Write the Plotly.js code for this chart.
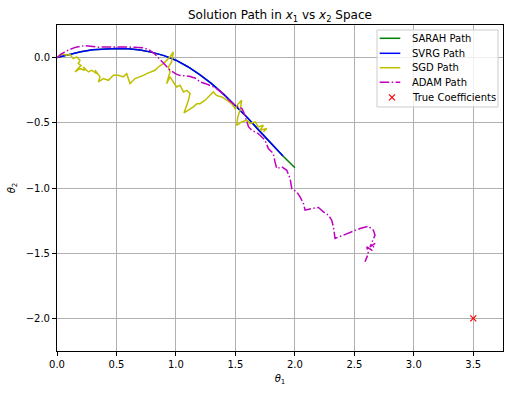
<!DOCTYPE html>
<html>
<head>
<meta charset="utf-8">
<script src="https://cdn.plot.ly/plotly-3.0.1.min.js"></script>
<style>html,body{margin:0;padding:0;background:#fff;}#chart{width:509px;height:393px;}</style>
</head>
<body>
<div id="chart"></div>
<script>
// SARAH path
const sarahX = [0,0.1,0.2,0.3,0.4,0.5,0.6,0.7,0.8,0.9,1.0,1.1,1.2,1.3,1.4,1.5,1.6,1.7,1.8,1.9,2.0];
const sarahY = [0,0.025,0.045,0.06,0.067,0.07,0.068,0.058,0.04,0.015,-0.02,-0.07,-0.13,-0.2,-0.28,-0.37,-0.46,-0.56,-0.66,-0.755,-0.845];
// SVRG path
const svrgX = [0,0.1,0.2,0.3,0.4,0.5,0.6,0.7,0.8,0.9,1.0,1.1,1.2,1.3,1.4,1.5,1.6,1.7,1.8,1.9];
const svrgY = [0,0.025,0.045,0.06,0.067,0.07,0.068,0.058,0.04,0.015,-0.02,-0.07,-0.13,-0.2,-0.28,-0.37,-0.46,-0.56,-0.66,-0.755];
// SGD path
const sgdX = [0,0.039,0.081,0.109,0.137,0.165,0.193,0.179,0.202,0.151,0.193,0.235,0.221,0.264,0.291,0.334,0.320,0.362,0.348,0.390,0.432,0.474,0.516,0.558,0.586,0.614,0.656,0.698,0.726,0.754,0.796,0.824,0.852,0.894,0.922,0.950,0.978,
  0.964,0.936,0.95,0.922,0.95,0.978,1.006,1.034,1.063,1.091,1.119,1.105,1.068,1.147,1.175,1.203,1.245,1.287,1.315,1.34,1.385,1.427,1.469,1.497,1.525,1.553,1.539,1.52,1.511,1.553,1.595,1.623,1.665,1.693,1.735,1.707,1.764,1.735];
const sgdY = [0,0.030,0.018,0.025,-0.008,0.005,-0.021,-0.046,-0.059,-0.110,-0.085,-0.097,-0.072,-0.110,-0.097,-0.123,-0.097,-0.148,-0.187,-0.161,-0.174,-0.136,-0.136,-0.148,-0.123,-0.199,-0.161,-0.148,-0.136,-0.123,-0.110,-0.097,-0.072,-0.046,-0.021,0.005,0.043,
  -0.033,-0.072,-0.11,-0.199,-0.148,-0.187,-0.225,-0.212,-0.263,-0.251,-0.276,-0.327,-0.424,-0.378,-0.353,-0.353,-0.327,-0.289,-0.263,-0.29,-0.302,-0.327,-0.353,-0.391,-0.353,-0.327,-0.404,-0.455,-0.519,-0.493,-0.48,-0.506,-0.493,-0.532,-0.519,-0.557,-0.544,-0.57];
// ADAM path
const adamX = [0,0.04,0.1,0.16,0.235,0.3,0.35,0.42,0.5,0.58,0.65,0.72,0.77,0.82,0.86,0.9,0.95,1.0,1.03,1.08,1.12,1.17,1.2,1.25,1.29,1.33,1.36,1.41,1.45,1.49,1.53,1.555,1.57,1.59,1.61,1.64,1.68,1.707,1.749,1.777,1.819,1.833,1.848,1.89,1.932,1.96,1.974,2.016,2.044,2.072,2.086,2.142,2.198,2.24,2.282,2.31,2.324,2.338,2.408,2.478,2.548,2.618,2.66,2.674,2.632,2.674,2.647,2.605,2.618,2.59];
const adamY = [0,0.03,0.06,0.08,0.092,0.085,0.08,0.082,0.082,0.08,0.08,0.075,0.062,0.03,-0.01,-0.05,-0.097,-0.125,-0.136,-0.14,-0.145,-0.16,-0.185,-0.2,-0.212,-0.23,-0.251,-0.289,-0.33,-0.36,-0.38,-0.39,-0.42,-0.47,-0.53,-0.56,-0.575,-0.595,-0.634,-0.697,-0.736,-0.8,-0.851,-0.838,-0.864,-0.927,-1.004,-1.03,-1.068,-1.119,-1.17,-1.157,-1.149,-1.183,-1.208,-1.247,-1.298,-1.387,-1.362,-1.336,-1.311,-1.293,-1.323,-1.362,-1.451,-1.425,-1.477,-1.451,-1.502,-1.566];
// True coefficients
const trueX = [3.5];
const trueY = [-2.0];
const seriesNames = ['SARAH Path','SVRG Path','SGD Path','ADAM Path','True Coefficients'];
const seriesColors = ['#008000','#0000ff','#bfbf00','#bf00bf','#ff0000'];
const adamDash = '9.6px,2.4px,1.5px,2.4px';

const font = 'DejaVu Sans, sans-serif';
const traces = [
  {x: sarahX, y: sarahY, mode: 'lines', name: seriesNames[0], line: {color: seriesColors[0], width: 1.5}},
  {x: svrgX, y: svrgY, mode: 'lines', name: seriesNames[1], line: {color: seriesColors[1], width: 1.5}},
  {x: sgdX, y: sgdY, mode: 'lines', name: seriesNames[2], line: {color: seriesColors[2], width: 1.5}},
  {x: adamX, y: adamY, mode: 'lines', name: seriesNames[3], line: {color: seriesColors[3], width: 1.5, dash: adamDash}},
  {x: trueX, y: trueY, mode: 'markers', name: seriesNames[4], marker: {symbol: 'x-thin', size: 6, color: seriesColors[4], line: {color: seriesColors[4], width: 1.2}}}
];

// Compact matplotlib-style legend (box, samples, labels) in paper coordinates
const W = 446, H = 326; // plot area size in px
const lgLeft = 0.7175, lgRight = 0.9888, lgTop = 0.9847, lgBottom = 0.7485;
const rowY = [0.9592, 0.9132, 0.8690, 0.8242, 0.7782];
const sampleX0 = 0.7235, sampleX1 = 0.7697, markX = 0.7511, textX = 0.7915;
const shapes = [{type: 'rect', xref: 'paper', yref: 'paper', x0: lgLeft, x1: lgRight, y0: lgBottom, y1: lgTop,
  line: {color: '#cccccc', width: 1}, fillcolor: 'rgba(255,255,255,0.8)', layer: 'above'}];
const annotations = [];
seriesNames.forEach((name, i) => {
  if (i < 4) {
    shapes.push({type: 'line', xref: 'paper', yref: 'paper', x0: sampleX0, x1: sampleX1, y0: rowY[i], y1: rowY[i],
      line: {color: seriesColors[i], width: 1.5, dash: i === 3 ? adamDash : 'solid'}, layer: 'above'});
  } else {
    const dx = 3 / W, dy = 3 / H;
    shapes.push({type: 'path', xref: 'paper', yref: 'paper', layer: 'above',
      path: `M ${markX - dx},${rowY[i] - dy} L ${markX + dx},${rowY[i] + dy} M ${markX - dx},${rowY[i] + dy} L ${markX + dx},${rowY[i] - dy}`,
      line: {color: seriesColors[i], width: 1.2}});
  }
  annotations.push({xref: 'paper', yref: 'paper', x: textX, y: rowY[i], xanchor: 'left', yanchor: 'middle',
    text: name, showarrow: false, font: {family: font, size: 10, color: '#000'}});
});

const axisCommon = {
  showline: true, linecolor: '#000', linewidth: 1, mirror: true,
  ticks: 'outside', ticklen: 4, tickwidth: 1, tickcolor: '#000',
  showgrid: true, gridcolor: '#b0b0b0', gridwidth: 1,
  zeroline: false, dtick: 0.5, tickformat: '.1f',
  tickfont: {family: font, size: 10, color: '#000'}
};
const layout = {
  width: 509, height: 393,
  margin: {l: 57, r: 6, t: 25, b: 42},
  paper_bgcolor: '#fff', plot_bgcolor: '#fff',
  font: {family: font, size: 10, color: '#000'},
  title: {text: 'Solution Path in <i>x</i><sub>1</sub> vs <i>x</i><sub>2</sub> Space', font: {family: font, size: 12, color: '#000'}, x: 0.55, xanchor: 'center', yref: 'container', y: 0.962, yanchor: 'middle'},
  xaxis: Object.assign({}, axisCommon, {range: [0, 3.75], tick0: 0, title: {text: '<i>θ</i><sub>1</sub>', font: {family: font, size: 10}, standoff: 5}}),
  yaxis: Object.assign({}, axisCommon, {range: [-2.25, 0.25], tick0: 0, title: {text: '<i>θ</i><sub>2</sub>', font: {family: font, size: 10}, standoff: 8}}),
  showlegend: false,
  shapes: shapes,
  annotations: annotations
};
Plotly.newPlot('chart', traces, layout, {displayModeBar: false, staticPlot: true});
</script>
</body>
</html>
